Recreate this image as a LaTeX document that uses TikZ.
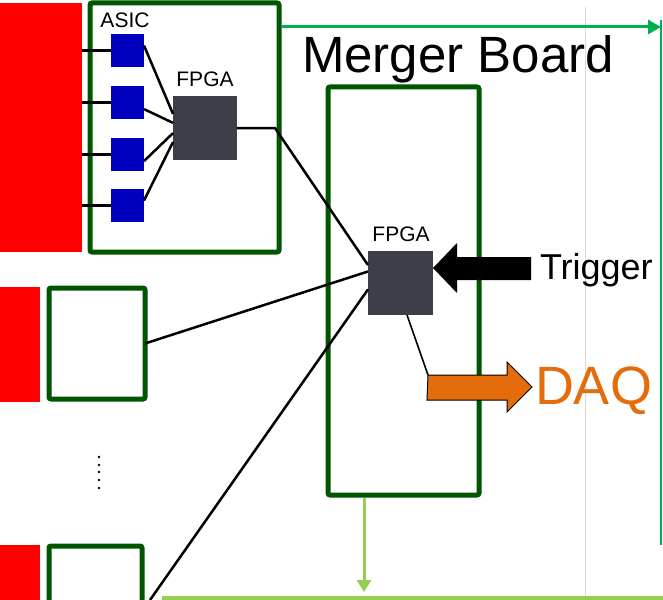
\documentclass[tikz,border=0pt]{standalone}
\usepackage{fontspec}
\setmainfont{Liberation Sans}
\usetikzlibrary{arrows.meta,calc}
\definecolor{boardgreen}{RGB}{0,85,0}
\definecolor{fered}{RGB}{255,0,0}
\definecolor{asicblue}{RGB}{0,0,190}
\definecolor{fpgagray}{RGB}{60,63,72}
\definecolor{arrowgreen}{RGB}{0,176,80}
\definecolor{lightgreen}{RGB}{146,208,80}
\definecolor{daqorange}{RGB}{228,108,10}
\begin{document}
\begin{tikzpicture}[x=1pt,y=-1pt,
  redblock/.style={fill=fered,draw=none,inner sep=0,outer sep=0,anchor=north west},
  board/.style={draw=boardgreen,line width=5pt,rounded corners=2pt,fill=white,inner sep=0,outer sep=0,anchor=north west},
  asic/.style={fill=asicblue,inner sep=0,outer sep=0,minimum width=33pt,minimum height=33pt,anchor=north west},
  fpga/.style={fill=fpgagray,inner sep=0,outer sep=0,minimum width=64pt,minimum height=64pt,anchor=north west},
  wire/.style={line width=2.5pt,black},
  lbl/.style={inner sep=0,outer sep=0},
  smalllbl/.style={lbl,font=\fontsize{21}{21}\selectfont}
]
\useasboundingbox (0,0) rectangle (663,599);
\fill[white] (0,0) rectangle (663,599);
% thin grey guide line
\draw[black!15,line width=0.8pt] (585,7) -- (585,599);
% front-end 1
\node[redblock,minimum width=82pt,minimum height=249pt] (red1) at (0,3) {};
\node[board,minimum width=189pt,minimum height=249pt] (fe1) at (90,3) {};
\node[smalllbl] (asiclbl) at (125,20) {ASIC};
\node[asic] (a1) at (111,34) {};
\node[asic] (a2) at (111,86) {};
\node[asic] (a3) at (111,138) {};
\node[asic] (a4) at (111,189) {};
\node[fpga] (f1) at (173,96) {};
\node[smalllbl] (f1lbl) at (205,79) {FPGA};
\foreach \i in {1,2,3,4}{
  \draw[wire] (a\i.west -| red1.east) -- (a\i.west);
}
\draw[wire] ($(a1.north east)!0.35!(a1.south east)$) -- ($(f1.north west)!0.28!(f1.south west)$);
\draw[wire] ($(a2.north east)!0.7!(a2.south east)$) -- ($(f1.north west)!0.42!(f1.south west)$);
\draw[wire] ($(a3.north east)!0.7!(a3.south east)$) -- ($(f1.north west)!0.58!(f1.south west)$);
\draw[wire] ($(a4.north east)!0.35!(a4.south east)$) -- ($(f1.north west)!0.72!(f1.south west)$);
% front-end 2
\node[redblock,minimum width=40pt,minimum height=115pt] (red2) at (0,287) {};
\node[board,minimum width=96pt,minimum height=111pt] (fe2) at (49,288) {};
% dots
\foreach \y in {457,465,472,480,488}{ \fill (99,\y) circle (1.4pt); }
% front-end 3
\node[redblock,minimum width=40pt,minimum height=70pt] (red3) at (0,545) {};
\node[board,minimum width=93pt,minimum height=80pt] (fe3) at (49,546) {};
\coordinate (fe3c) at (150,600);
% merger board
\node[board,minimum width=151pt,minimum height=408pt] (mb) at (328,87) {};
\node[fpga,minimum width=65pt] (f2) at (368,251) {};
\node[smalllbl] (f2lbl) at (401,234) {FPGA};
\node[lbl,font=\fontsize{51}{51}\selectfont,anchor=west] (mblbl) at (302,59) {Merger Board};
% wires to merger FPGA
\coordinate (bend) at (275,128);
\draw[wire] (f1.east |- bend) -- (bend) -- ($(f2.north west)!0.22!(f2.south west)$);
\draw[wire] (fe2.east) -- ($(f2.north west)!0.32!(f2.south west)$);
\draw[wire] (fe3c) -- ($(f2.north west)!0.6!(f2.south west)$);
\coordinate (daqin) at (428,375);
\draw[wire,line width=1.6pt] ($(f2.south west)!0.6!(f2.south east)$) -- (daqin);
% trigger arrow
\node[lbl,font=\fontsize{36}{36}\selectfont,anchor=west] (trig) at (540,270) {Trigger};
\fill[black] (531,257) -- (457,257) -- (457,243) -- (f2.east |- 0,268) -- (457,293) -- (457,280) -- (531,280) -- cycle;
% DAQ arrow
\node[lbl,font=\fontsize{54}{54}\selectfont,text=daqorange,anchor=west] (daq) at (535,391) {DAQ};
\filldraw[fill=daqorange,draw=black,line width=1pt] (daqin) -- (507,375) -- (507,362) -- (532,387) -- (507,412) -- (507,400) -- (427,400) -- cycle;
% top green arrow and right line
\coordinate (tgs) at (282,27);
\coordinate (tge) at (661,27);
\draw[arrowgreen,line width=3pt,-{Triangle[length=13pt,width=14pt]}] (tgs) -- (tge);
\draw[arrowgreen,line width=1.5pt] (661,20) -- (661,545);
% bottom light green
\coordinate (bl) at (162,598);
\coordinate (br) at (663,598);
\draw[lightgreen,line width=5pt] (bl) -- (br);
\draw[lightgreen,line width=3pt,-{Triangle[length=12pt,width=14pt]}] (mb.south -| 364,0) ++(0,3) -- (364,592);
\end{tikzpicture}
\end{document}
